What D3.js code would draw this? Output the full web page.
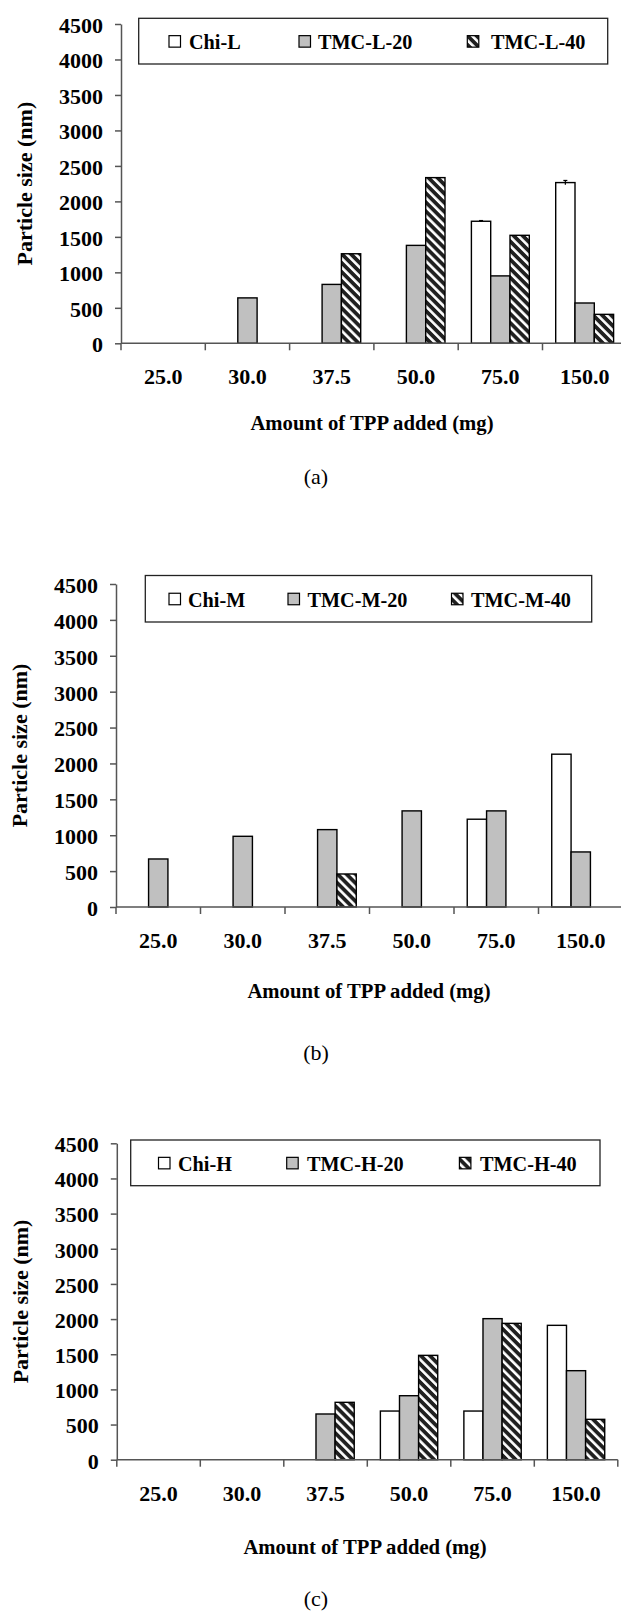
<!DOCTYPE html>
<html>
<head>
<meta charset="utf-8">
<script src="https://cdn.jsdelivr.net/npm/d3@7"></script>
<style>
  html, body { margin: 0; padding: 0; background: #fff; }
  svg { display: block; }
  svg text { font-family: "Liberation Serif", Tinos, "Times New Roman", Times, "DejaVu Serif", serif !important; fill: #000; }
</style>
</head>
<body>
<svg id="fig" width="621" height="1611"></svg>
<script>
// Amount of TPP added (mg) – shared category axis
const categories = ["25.0", "30.0", "37.5", "50.0", "75.0", "150.0"];
const yTickValues = [0, 500, 1000, 1500, 2000, 2500, 3000, 3500, 4000, 4500];

// (a) low molecular weight chitosan and its TMC derivatives
const seriesA = ["Chi-L", "TMC-L-20", "TMC-L-40"];
const chiL    = [null, null, null, null, 1720, 2265];
const chiLErr = [null, null, null, null, 10, 30];
const tmcL20  = [null, 640, 830, 1380, 950, 568];
const tmcL40  = [null, null, 1262, 2335, 1522, 408];

// (b) medium molecular weight
const seriesB = ["Chi-M", "TMC-M-20", "TMC-M-40"];
const chiM   = [null, null, null, null, 1223, 2129];
const tmcM20 = [669, 985, 1078, 1339, 1339, 767];
const tmcM40 = [null, null, 460, null, null, null];

// (c) high molecular weight
const seriesC = ["Chi-H", "TMC-H-20", "TMC-H-40"];
const chiH   = [null, null, null, 692, 692, 1911];
const tmcH20 = [null, null, 650, 910, 2006, 1266];
const tmcH40 = [null, null, 816, 1484, 1939, 574];

const fills = ["#ffffff", "#c0c0c0", "url(#hatch)"];
const serif = "'Liberation Serif', Tinos, 'Times New Roman', Times, 'DejaVu Serif', serif";

const panels = [
  { caption: "(a)", names: seriesA, values: [chiL, tmcL20, tmcL40], errors: [chiLErr, null, null],
    left: 121, bandW: 84.3, top: 24, bottom: 343.3, yTitleX: 24, xTitleX: 372, titleDy: 87, capDy: 141,
    legend: { x0: 138.7, x1: 607.7, y0: 18.3, y1: 64, items: [[169, 189], [299, 318], [467.3, 491]] } },
  { caption: "(b)", names: seriesB, values: [chiM, tmcM20, tmcM40], errors: [null, null, null],
    left: 116, bandW: 84.5, top: 584, bottom: 907, yTitleX: 19, xTitleX: 369, titleDy: 91, capDy: 153,
    legend: { x0: 145.3, x1: 591.7, y0: 575.5, y1: 622, items: [[169, 188], [288, 307.5], [451.5, 471]] } },
  { caption: "(c)", names: seriesC, values: [chiH, tmcH20, tmcH40], errors: [null, null, null],
    left: 116.8, bandW: 83.5, top: 1143.3, bottom: 1459.7, yTitleX: 20, xTitleX: 365, titleDy: 94, capDy: 146,
    legend: { x0: 130.7, x1: 600, y0: 1140, y1: 1185.7, items: [[158.5, 178], [286.7, 307], [459.4, 480]] } }
];

const svg = d3.select("#fig");

// diagonal hatch used for the 40% trimethylated series
const defs = svg.append("defs");
const pat = defs.append("pattern")
  .attr("id", "hatch")
  .attr("patternUnits", "userSpaceOnUse")
  .attr("width", 6.4).attr("height", 6.4)
  .attr("patternTransform", "rotate(-45)");
pat.append("rect").attr("width", 6.4).attr("height", 6.4).attr("fill", "#202020");
pat.append("rect").attr("width", 2.6).attr("height", 6.4).attr("fill", "#ffffff");

const axisColor = "#555";

panels.forEach(p => {
  const g = svg.append("g").style("font-family", serif);

  const x0 = d3.scaleBand()
    .domain(categories)
    .range([p.left, p.left + p.bandW * categories.length])
    .padding(0);
  const x1 = d3.scaleBand()
    .domain(p.names)
    .range([0, x0.bandwidth()])
    .paddingInner(0)
    .paddingOuter(0.684);
  const y = d3.scaleLinear().domain([0, 4500]).range([p.bottom, p.top]);

  // y axis
  const yAxis = g.append("g")
    .attr("transform", `translate(${p.left},0)`)
    .call(d3.axisLeft(y).tickValues(yTickValues).tickFormat(d3.format("d"))
      .tickSize(6).tickSizeOuter(0).tickPadding(12));
  yAxis.attr("font-family", null).attr("font-size", null);
  yAxis.select(".domain").attr("stroke", axisColor).attr("stroke-width", 1.5);
  yAxis.selectAll(".tick line").attr("stroke", axisColor).attr("stroke-width", 1.5);
  yAxis.selectAll(".tick text")
    .attr("dy", "0.38em")
    .style("font-family", serif)
    .style("font-size", "22px").style("font-weight", "bold");

  // bars
  p.names.forEach((name, si) => {
    const vals = p.values[si];
    const rows = categories.map((c, i) => ({ c, v: vals[i], e: p.errors[si] ? p.errors[si][i] : null }))
      .filter(d => d.v != null);
    g.append("g").selectAll("rect").data(rows).join("rect")
      .attr("x", d => x0(d.c) + x1(name))
      .attr("y", d => y(d.v))
      .attr("width", x1.bandwidth())
      .attr("height", d => y(0) - y(d.v))
      .attr("fill", fills[si])
      .attr("stroke", "#000")
      .attr("stroke-width", 1.4);
    const errs = rows.filter(d => d.e != null);
    const eg = g.append("g").attr("stroke", "#000").attr("stroke-width", 1.2);
    eg.selectAll("line.v").data(errs).join("line").attr("class", "v")
      .attr("x1", d => x0(d.c) + x1(name) + x1.bandwidth() / 2)
      .attr("x2", d => x0(d.c) + x1(name) + x1.bandwidth() / 2)
      .attr("y1", d => y(d.v + d.e)).attr("y2", d => y(d.v - d.e));
    eg.selectAll("line.c").data(errs).join("line").attr("class", "c")
      .attr("x1", d => x0(d.c) + x1(name) + x1.bandwidth() / 2 - 2)
      .attr("x2", d => x0(d.c) + x1(name) + x1.bandwidth() / 2 + 2)
      .attr("y1", d => y(d.v + d.e)).attr("y2", d => y(d.v + d.e));
  });

  // x axis: labels centred in each category, ticks on category boundaries
  const xAxis = g.append("g")
    .attr("transform", `translate(0,${y(0)})`)
    .call(d3.axisBottom(x0).tickSize(0).tickSizeOuter(0));
  xAxis.attr("font-family", null).attr("font-size", null);
  xAxis.select(".domain").remove();
  xAxis.selectAll(".tick text")
    .attr("y", 41).attr("dy", null)
    .style("font-family", serif)
    .style("font-size", "22px").style("font-weight", "bold");
  const [r0, r1] = x0.range();
  xAxis.append("line")
    .attr("x1", r0).attr("x2", r1).attr("y1", 0).attr("y2", 0)
    .attr("stroke", axisColor).attr("stroke-width", 1.5);
  xAxis.selectAll("line.bound")
    .data(categories.map(c => x0(c)).concat([r1]))
    .join("line").attr("class", "bound")
    .attr("x1", d => d).attr("x2", d => d)
    .attr("y1", 0).attr("y2", 7)
    .attr("stroke", axisColor).attr("stroke-width", 1.5);

  // axis titles
  g.append("text")
    .attr("transform", `translate(${p.yTitleX},${(p.top + p.bottom) / 2}) rotate(-90)`)
    .attr("text-anchor", "middle").attr("dy", "0.35em")
    .style("font-size", "22px").style("font-weight", "bold")
    .text("Particle size (nm)");
  g.append("text")
    .attr("transform", `translate(${p.xTitleX},${y(0) + p.titleDy}) scale(0.94,1)`)
    .attr("text-anchor", "middle")
    .style("font-size", "22px").style("font-weight", "bold")
    .text("Amount of TPP added (mg)");
  g.append("text")
    .attr("x", 316).attr("y", y(0) + p.capDy)
    .attr("text-anchor", "middle")
    .style("font-size", "22px")
    .text(p.caption);

  // legend
  const L = p.legend;
  const lg = g.append("g");
  lg.append("rect")
    .attr("x", L.x0).attr("y", L.y0)
    .attr("width", L.x1 - L.x0).attr("height", L.y1 - L.y0)
    .attr("fill", "#fff").attr("stroke", "#222").attr("stroke-width", 1.3);
  const cy = (L.y0 + L.y1) / 2;
  p.names.forEach((name, si) => {
    const [sx, tx] = L.items[si];
    lg.append("rect")
      .attr("x", sx).attr("y", cy - 5.5).attr("width", 11.5).attr("height", 11.5)
      .attr("fill", fills[si]).attr("stroke", "#000").attr("stroke-width", 1.2);
    lg.append("text")
      .attr("transform", `translate(${tx},${cy + 8}) scale(0.92,1)`)
      .style("font-size", "22px").style("font-weight", "bold")
      .text(name);
  });
});
</script>
</body>
</html>
